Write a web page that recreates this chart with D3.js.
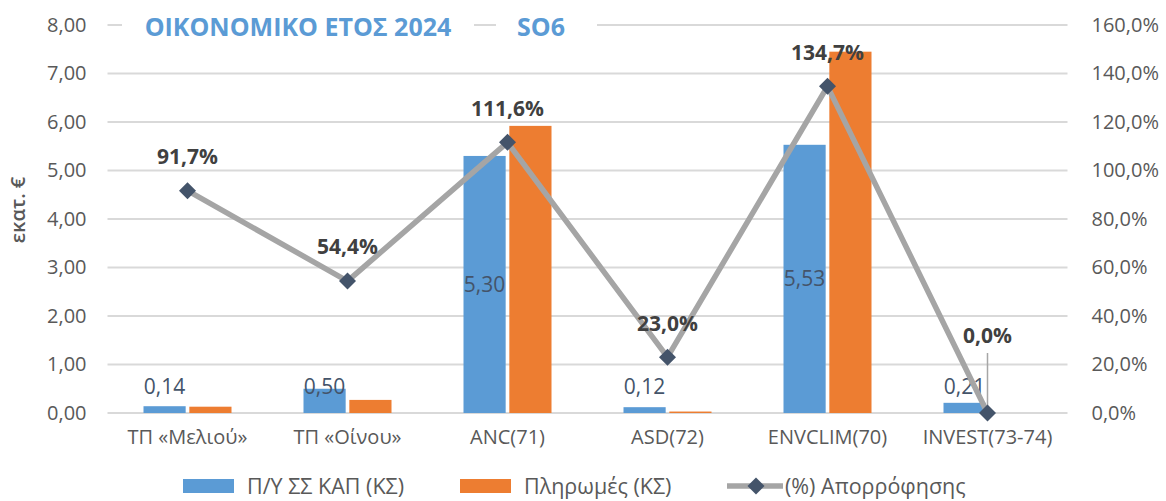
<!DOCTYPE html>
<html>
<head>
<meta charset="utf-8">
<script src="https://cdn.jsdelivr.net/npm/d3@7"></script>
<style>
  body { margin: 0; background: #fff; }
  svg { display: block; font-family: "Open Sans", sans-serif; }
</style>
</head>
<body>
<script>
// chart data
var categories = ['ΤΠ «Μελιού»', 'ΤΠ «Οίνου»', 'ANC(71)', 'ASD(72)', 'ENVCLIM(70)', 'INVEST(73-74)'];
var budget = [0.14, 0.50, 5.30, 0.12, 5.53, 0.21];      // Π/Υ ΣΣ ΚΑΠ (ΚΣ)
var payments = [0.13, 0.27, 5.92, 0.03, 7.45, 0.00];    // Πληρωμές (ΚΣ)
var absorption = [91.7, 54.4, 111.6, 23.0, 134.7, 0.0]; // (%) Απορρόφησης
var leftTicks = [0, 1, 2, 3, 4, 5, 6, 7, 8];
var rightTicks = [0, 20, 40, 60, 80, 100, 120, 140, 160];
var seriesNames = ['Π/Υ ΣΣ ΚΑΠ (ΚΣ)', 'Πληρωμές (ΚΣ)', '(%) Απορρόφησης'];

var width = 1166, height = 501;
var plotL = 107.5, plotR = 1067.5, plotT = 25, plotB = 413;

var loc = d3.formatLocale({ decimal: ',', thousands: '.', grouping: [3], currency: ['', '€'] });
var f2 = loc.format('.2f'), f1 = loc.format('.1f');

var svg = d3.select('body').append('svg')
    .attr('width', width)
    .attr('height', height);

var x0 = d3.scaleBand().domain(categories).range([plotL, plotR])
    .paddingInner(0.45).paddingOuter(0.225);
var x1 = d3.scaleBand().domain(['b', 'p']).range([0, x0.bandwidth()]).paddingInner(0.08);
var y = d3.scaleLinear().domain([0, 8]).range([plotB, plotT]);
var y2 = d3.scaleLinear().domain([0, 160]).range([plotB, plotT]);

// gridlines
svg.append('g').selectAll('line').data(leftTicks).enter().append('line')
    .attr('x1', plotL).attr('x2', plotR)
    .attr('y1', function (d) { return y(d); })
    .attr('y2', function (d) { return y(d); })
    .attr('stroke', '#D9D9D9').attr('stroke-width', 2);

// left axis
var ya = svg.append('g').attr('transform', 'translate(' + (plotL - 21) + ',0)')
    .call(d3.axisLeft(y).tickValues(leftTicks).tickFormat(f2).tickSize(0).tickPadding(0));
ya.select('.domain').remove();
ya.selectAll('text').attr('font-size', 20).attr('fill', '#595959').attr('font-family', 'Open Sans');

// right axis
var yb = svg.append('g').attr('transform', 'translate(' + (plotR + 24) + ',0)')
    .call(d3.axisRight(y2).tickValues(rightTicks).tickFormat(function (d) { return f1(d) + '%'; }).tickSize(0).tickPadding(0));
yb.select('.domain').remove();
yb.selectAll('text').attr('font-size', 20).attr('fill', '#595959').attr('font-family', 'Open Sans');

// x axis labels
var xa = svg.append('g').attr('transform', 'translate(0,' + (plotB + 17) + ')')
    .call(d3.axisBottom(x0).tickSize(0).tickPadding(0));
xa.select('.domain').remove();
xa.selectAll('text').attr('font-size', 20).attr('fill', '#595959').attr('font-family', 'Open Sans');

// y title
svg.append('text')
    .attr('transform', 'translate(25,210) rotate(-90)')
    .attr('text-anchor', 'middle')
    .attr('font-size', 20).attr('font-weight', 600).attr('fill', '#595959')
    .text('εκατ. €');

// bars
var groups = svg.append('g').selectAll('g').data(categories).enter().append('g')
    .attr('transform', function (d) { return 'translate(' + x0(d) + ',0)'; });

groups.append('rect')
    .attr('x', x1('b')).attr('width', x1.bandwidth())
    .attr('y', function (d, i) { return y(budget[i]); })
    .attr('height', function (d, i) { return plotB - y(budget[i]); })
    .attr('fill', '#5B9BD5');

groups.append('rect')
    .attr('x', x1('p')).attr('width', x1.bandwidth())
    .attr('y', function (d, i) { return y(payments[i]); })
    .attr('height', function (d, i) { return plotB - y(payments[i]); })
    .attr('fill', '#ED7D31');

groups.append('text')
    .attr('x', x1('b') + x1.bandwidth() / 2)
    .attr('y', function (d, i) {
        return budget[i] < 1 ? plotB - 26 : (y(budget[i]) + plotB) / 2;
    })
    .attr('dy', '0.35em')
    .attr('text-anchor', 'middle')
    .attr('font-size', 21).attr('fill', '#44546A')
    .text(function (d, i) { return f2(budget[i]); });

// line
var cx = function (d, i) { return x0(categories[i]) + x0.bandwidth() / 2; };
var line = d3.line().x(cx).y(function (d) { return y2(d); });

svg.append('path').datum(absorption)
    .attr('d', line)
    .attr('fill', 'none')
    .attr('stroke', '#A5A5A5').attr('stroke-width', 5.5)
    .attr('stroke-linejoin', 'round');

var diamond = 'M0,-8.5L8.5,0L0,8.5L-8.5,0Z';

// leader line for last label
var last = absorption.length - 1;
svg.append('line')
    .attr('x1', cx(null, last)).attr('x2', cx(null, last))
    .attr('y1', y2(absorption[last]) - 60).attr('y2', y2(absorption[last]) - 2)
    .attr('stroke', '#A6A6A6').attr('stroke-width', 1.5);

svg.append('g').selectAll('path').data(absorption).enter().append('path')
    .attr('d', diamond)
    .attr('transform', function (d, i) { return 'translate(' + cx(d, i) + ',' + y2(d) + ')'; })
    .attr('fill', '#44546A');

svg.append('g').selectAll('text').data(absorption).enter().append('text')
    .attr('x', cx)
    .attr('y', function (d, i) { return y2(d) - (i === last ? 77 : 34); })
    .attr('dy', '0.35em')
    .attr('text-anchor', 'middle')
    .attr('font-size', 21).attr('font-weight', 'bold').attr('fill', '#404040')
    .text(function (d) { return f1(d) + '%'; });

// title boxes
svg.append('rect').attr('x', 122).attr('y', 8).attr('width', 352).attr('height', 38).attr('fill', '#fff');
svg.append('rect').attr('x', 496).attr('y', 8).attr('width', 101).attr('height', 38).attr('fill', '#fff');
svg.append('text').attr('x', 298).attr('y', 27).attr('dy', '0.35em')
    .attr('text-anchor', 'middle').attr('font-size', 25).attr('font-weight', 'bold')
    .attr('fill', '#5B9BD5').text('ΟΙΚΟΝΟΜΙΚΟ ΕΤΟΣ 2024');
svg.append('text').attr('x', 541).attr('y', 27).attr('dy', '0.35em')
    .attr('text-anchor', 'middle').attr('font-size', 25).attr('font-weight', 'bold')
    .attr('fill', '#5B9BD5').text('SO6');

// legend
var lgY = 486;
var lg = svg.append('g').attr('font-size', 21.5).attr('fill', '#595959');
lg.append('rect').attr('x', 183).attr('y', lgY - 7).attr('width', 51).attr('height', 14).attr('fill', '#5B9BD5');
lg.append('text').attr('x', 247).attr('y', lgY).attr('dy', '0.35em').text(seriesNames[0]);
lg.append('rect').attr('x', 460).attr('y', lgY - 7).attr('width', 51).attr('height', 14).attr('fill', '#ED7D31');
lg.append('text').attr('x', 524).attr('y', lgY).attr('dy', '0.35em').text(seriesNames[1]);
lg.append('line').attr('x1', 727).attr('x2', 783).attr('y1', lgY).attr('y2', lgY)
    .attr('stroke', '#A5A5A5').attr('stroke-width', 5.5);
lg.append('path').attr('d', diamond).attr('transform', 'translate(756,' + lgY + ')').attr('fill', '#44546A');
lg.append('text').attr('x', 785).attr('y', lgY).attr('dy', '0.35em').text(seriesNames[2]);
</script>
</body>
</html>
